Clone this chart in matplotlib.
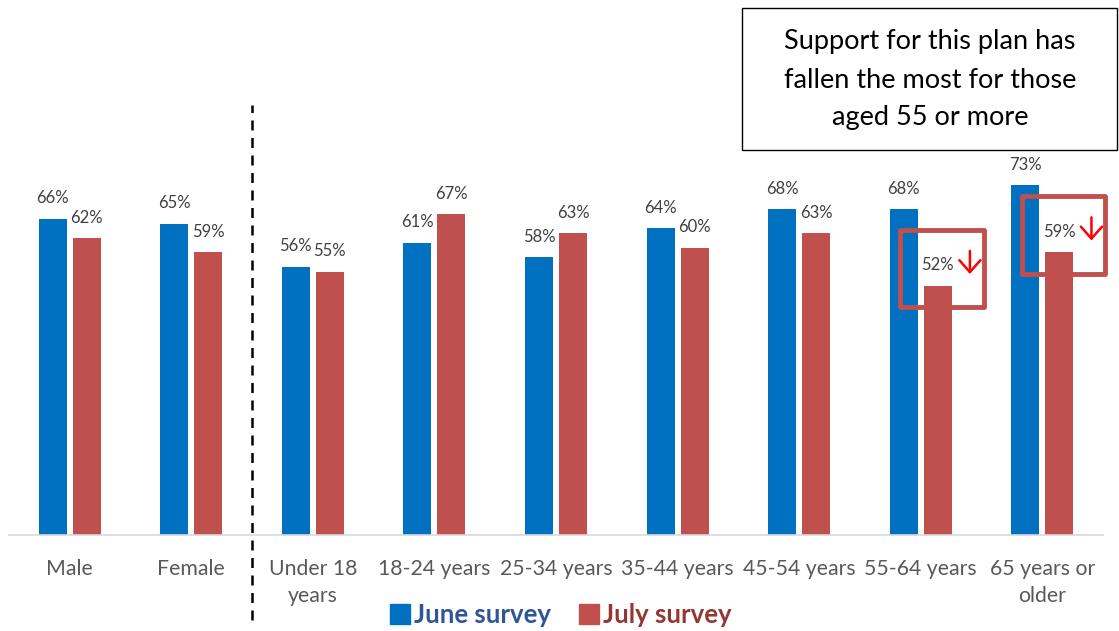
import numpy as np
import matplotlib.pyplot as plt
from matplotlib.patches import Rectangle
from matplotlib.lines import Line2D

plt.rcParams['font.family'] = ['Lato', 'DejaVu Sans']

categories = ['Male', 'Female', 'Under 18\nyears', '18-24 years', '25-34 years',
              '35-44 years', '45-54 years', '55-64 years', '65 years or\nolder']
june = [66, 65, 56, 61, 58, 64, 68, 68, 73]
july = [62, 59, 55, 67, 63, 60, 63, 52, 59]
flagged = [7, 8]  # groups with the sharpest drop

blue = '#0070C0'
red = '#C0504D'

fig = plt.figure(figsize=(11.19, 6.31), dpi=100)
ax = fig.add_axes([9 / 1119, 96 / 631, 1094 / 1119, 479 / 631])
ax.set_xlim(-0.5, len(categories) - 0.5)
ax.set_ylim(0, 100)

x = np.arange(len(categories))
off = 0.14
w = 0.23
ax.bar(x - off, june, w, color=blue)
ax.bar(x + off, july, w, color=red)

for i in range(len(categories)):
    ax.annotate(f'{june[i]}%', (x[i] - off, june[i]), xytext=(0, 9), textcoords='offset points',
                ha='center', va='bottom', fontsize=12, color='#404040')
    ax.annotate(f'{july[i]}%', (x[i] + off, july[i]), xytext=(0, 9), textcoords='offset points',
                ha='center', va='bottom', fontsize=12, color='#404040')

# highlight boxes and down arrows
for i in flagged:
    ax.add_patch(Rectangle((x[i] + off - 0.31, july[i] - 4.5), 0.69, 16.2, fill=False,
                           edgecolor=red, lw=3.5, joinstyle='round', zorder=3, clip_on=False))
    ax.annotate('', xy=(x[i] + off + 0.265, july[i] + 1.9), xytext=(x[i] + off + 0.265, july[i] + 7.9),
                arrowprops=dict(arrowstyle='->, head_length=0.43, head_width=0.38', color='red',
                                lw=1.8, mutation_scale=20), zorder=4, annotation_clip=False)

# separator between gender and age groups
ax.plot([1.5, 1.5], [-17.7, 89.8], color='black', lw=1.8, ls=(0, (4, 3)), clip_on=False)

for s in ['top', 'right', 'left']:
    ax.spines[s].set_visible(False)
ax.spines['bottom'].set_color('#D9D9D9')
ax.spines['bottom'].set_linewidth(1.2)
ax.set_yticks([])
ax.set_xticks(x)
ax.set_xticklabels(categories, fontsize=15.3, color='#595959', linespacing=1.45)
ax.tick_params(axis='x', length=0, pad=17)

# callout box
fig.add_artist(Rectangle((742 / 1119, 1 - 150 / 631), 375 / 1119, 142 / 631,
                         transform=fig.transFigure, fill=False, edgecolor='black', lw=1))
fig.text(930 / 1119, 1 - 80 / 631, 'Support for this plan has\nfallen the most for those\naged 55 or more',
         ha='center', va='center', fontsize=19.5, linespacing=1.65, color='black')

handles = [Line2D([], [], marker='s', ls='', color=blue, markersize=14),
           Line2D([], [], marker='s', ls='', color=red, markersize=14)]
leg = fig.legend(handles, ['June survey', 'July survey'], loc='center', bbox_to_anchor=(560 / 1119, 1 - 615 / 631),
                 ncol=2, frameon=False, prop={'size': 18.5, 'weight': 'bold'}, handletextpad=0.1,
                 columnspacing=1.0, handlelength=0.9)
for t, c in zip(leg.get_texts(), ['#2F5597', '#943634']):
    t.set_color(c)

fig.savefig('out.png', dpi=100)
